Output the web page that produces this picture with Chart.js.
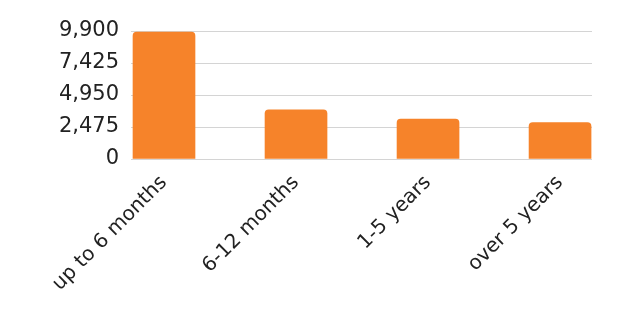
<!DOCTYPE html>
<html>
<head>
<meta charset="utf-8">
<script src="https://cdn.jsdelivr.net/npm/chart.js@4"></script>
<style>
  html, body { margin: 0; padding: 0; background: #fff; }
  #wrap { width: 620px; height: 310px; }
</style>
</head>
<body>
<div id="wrap"><canvas id="durationChart" width="620" height="310"></canvas></div>
<script>
const categories = ['up to 6 months', '6-12 months', '1-5 years', 'over 5 years'];
const counts = [9820, 3810, 3085, 2825];
const yTicks = [0, 2475, 4950, 7425, 9900];

const ctx = document.getElementById('durationChart').getContext('2d');

new Chart(ctx, {
    type: 'bar',
    data: {
        datasets: [{
            data: counts.map(function(v, i) { return { x: i, y: v }; }),
            backgroundColor: '#F6832A',
            borderRadius: { topLeft: 4, topRight: 4 },
            borderSkipped: 'bottom',
            barThickness: 62
        }]
    },
    options: {
        responsive: false,
        animation: false,
        layout: { padding: { top: 31, right: 28, left: 0, bottom: 0 } },
        plugins: {
            legend: { display: false },
            tooltip: { enabled: false }
        },
        scales: {
            x: {
                type: 'linear',
                offset: false,
                min: -0.25,
                max: 3.242,
                afterBuildTicks: function(scale) {
                    scale.ticks = categories.map(function(c, i) { return { value: i }; });
                },
                afterFit: function(scale) { scale.height = 151; },
                grid: { display: false, offset: false },
                border: { display: false },
                ticks: {
                    color: '#222',
                    font: { family: 'DejaVu Sans', size: 20 },
                    maxRotation: 45,
                    minRotation: 45,
                    padding: 4,
                    callback: function(value) { return categories[value]; }
                }
            },
            y: {
                min: yTicks[0],
                max: yTicks[yTicks.length - 1],
                afterBuildTicks: function(scale) {
                    scale.ticks = yTicks.map(function(v) { return { value: v }; });
                },
                afterFit: function(scale) { scale.width = 131; },
                grid: { color: '#d4d4d4', lineWidth: 1, drawTicks: false },
                border: { display: false },
                ticks: {
                    color: '#222',
                    font: { family: 'DejaVu Sans', size: 21 },
                    padding: 12
                }
            }
        }
    }
});
</script>
</body>
</html>
